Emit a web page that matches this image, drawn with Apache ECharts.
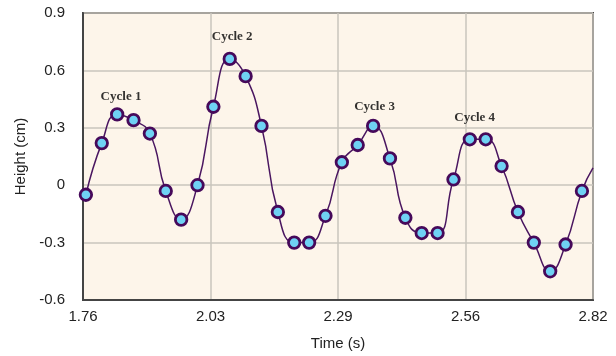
<!DOCTYPE html>
<html>
<head>
<meta charset="utf-8">
<script src="https://cdn.jsdelivr.net/npm/echarts@6/dist/echarts.min.js"></script>
<style>
  html, body { margin: 0; padding: 0; background: #ffffff; }
  #chart { width: 616px; height: 356px; }
</style>
</head>
<body>
<div id="chart"></div>
<script>
// Time (s) of each measured frame
const times = [
  1.766, 1.799, 1.831, 1.865, 1.899, 1.932, 1.964, 1.998,
  2.031, 2.065, 2.098, 2.131, 2.165, 2.199, 2.230, 2.264,
  2.298, 2.331, 2.363, 2.398, 2.430, 2.464, 2.497, 2.530,
  2.564, 2.597, 2.630, 2.664, 2.697, 2.731, 2.763, 2.797
];
// Height (cm) of each measured frame
const heights = [
  -0.05, 0.22, 0.37, 0.34, 0.27, -0.03, -0.18, 0.00,
  0.41, 0.66, 0.57, 0.31, -0.14, -0.30, -0.30, -0.16,
  0.12, 0.21, 0.31, 0.14, -0.17, -0.25, -0.25, 0.03,
  0.24, 0.24, 0.10, -0.14, -0.30, -0.45, -0.31, -0.03
];
// Where the curve leaves the plot on the right edge
const curveEnd = [2.82, 0.09];

// Cycle annotations
const cycleNames = ['Cycle 1', 'Cycle 2', 'Cycle 3', 'Cycle 4'];
const cycleX = [1.839, 2.070, 2.366, 2.574];
const cycleY = [0.464, 0.777, 0.412, 0.352];

// Axis ticks
const xMin = 1.76, xMax = 2.82, xStep = 0.265;
const xTickLabels = ['1.76', '2.03', '2.29', '2.56', '2.82'];
const yMin = -0.6, yMax = 0.9, yStep = 0.3;
const yTickLabels = ['-0.6', '-0.3', '0', '0.3', '0.6', '0.9'];

const lineData = times.map((t, i) => [t, heights[i]]);
lineData.push({ value: curveEnd, symbol: 'none' });

const labelData = cycleNames.map((n, i) => ({ name: n, value: [cycleX[i], cycleY[i]] }));

const chart = echarts.init(document.getElementById('chart'), null, { renderer: 'canvas' });
chart.setOption({
  animation: false,
  backgroundColor: '#ffffff',
  grid: {
    left: 83, right: 23, top: 13, bottom: 55,
    show: true,
    backgroundColor: '#fdf5ea',
    borderColor: '#444444',
    borderWidth: 2
  },
  xAxis: {
    type: 'value',
    min: xMin, max: xMax, interval: xStep,
    name: 'Time (s)',
    nameLocation: 'middle',
    nameGap: 36,
    nameTextStyle: { fontFamily: 'Liberation Sans', fontSize: 15, color: '#222' },
    axisLine: { show: true, onZero: false, lineStyle: { color: '#444444', width: 2 } },
    axisTick: { show: false },
    axisLabel: {
      fontFamily: 'Liberation Sans', fontSize: 15, color: '#222', margin: 9,
      formatter: v => xTickLabels[Math.round((v - xMin) / xStep)]
    },
    splitLine: { show: true, lineStyle: { color: '#c9c5bd', width: 1.5 } }
  },
  yAxis: {
    type: 'value',
    min: yMin, max: yMax, interval: yStep,
    name: 'Height (cm)',
    nameLocation: 'middle',
    nameGap: 54,
    nameTextStyle: { fontFamily: 'Liberation Sans', fontSize: 15, color: '#222' },
    axisLine: { show: true, onZero: false, lineStyle: { color: '#444444', width: 2 } },
    axisTick: { show: false },
    axisLabel: {
      fontFamily: 'Liberation Sans', fontSize: 15, color: '#222', margin: 18,
      formatter: v => yTickLabels[Math.round((v - yMin) / yStep)]
    },
    splitLine: { show: true, lineStyle: { color: '#c9c5bd', width: 1.5 } }
  },
  series: [
    {
      type: 'line',
      data: lineData,
      smooth: 0.5,
      clip: true,
      symbol: 'circle',
      symbolSize: 11.5,
      showAllSymbol: true,
      lineStyle: { color: '#4a1660', width: 1.5 },
      itemStyle: { color: '#6fd2f4', borderColor: '#46095a', borderWidth: 2.8 },
      z: 3
    },
    {
      type: 'scatter',
      data: labelData,
      symbolSize: 1,
      itemStyle: { color: 'rgba(0,0,0,0)' },
      label: {
        show: true,
        position: 'inside',
        formatter: '{b}',
        fontFamily: 'Liberation Serif',
        fontWeight: 'bold',
        fontSize: 13,
        color: '#000000',
        textBorderWidth: 0,
        textBorderColor: 'transparent'
      },
      z: 4
    }
  ]
});
</script>
</body>
</html>
